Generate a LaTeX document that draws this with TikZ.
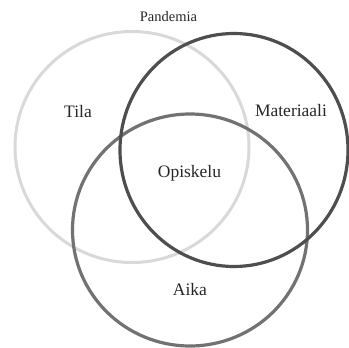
\documentclass[tikz,border=0pt]{standalone}
\usepackage{fontspec}
\setmainfont{Liberation Serif}
\definecolor{clight}{HTML}{D9D9D9}
\definecolor{cmid}{HTML}{727272}
\definecolor{cdark}{HTML}{4E4E4E}
\begin{document}
\begin{tikzpicture}[x=1pt,y=-1pt,
  ring/.style={draw,line width=3.2pt},
  lbl/.style={inner sep=0pt,font=\fontsize{17.5}{20}\selectfont,text=black!85}]
\useasboundingbox (0,0) rectangle (349,348);
\node[draw=none,fill=none,inner sep=0pt] (tilac) at (132,147) {};
\node[draw=none,fill=none,inner sep=0pt] (matc) at (234,150) {};
\node[draw=none,fill=none,inner sep=0pt] (aikac) at (190,230) {};
\draw[ring,clight,line width=3pt] (tilac) circle[x radius=117,y radius=115.5];
\draw[ring,cmid] (aikac) circle[x radius=117.5,y radius=116];
\draw[ring,cdark] (matc) circle[x radius=114,y radius=116.5];
\node[lbl,font=\fontsize{14.5}{17}\selectfont] (pandemia) at (168.5,17) {Pandemia};
\node[lbl] (tila) at (78,112) {Tila};
\node[lbl] (materiaali) at (291,111) {Materiaali};
\node[lbl] (opiskelu) at (189.5,173) {Opiskelu};
\node[lbl] (aika) at (190,290) {Aika};
\end{tikzpicture}
\end{document}
